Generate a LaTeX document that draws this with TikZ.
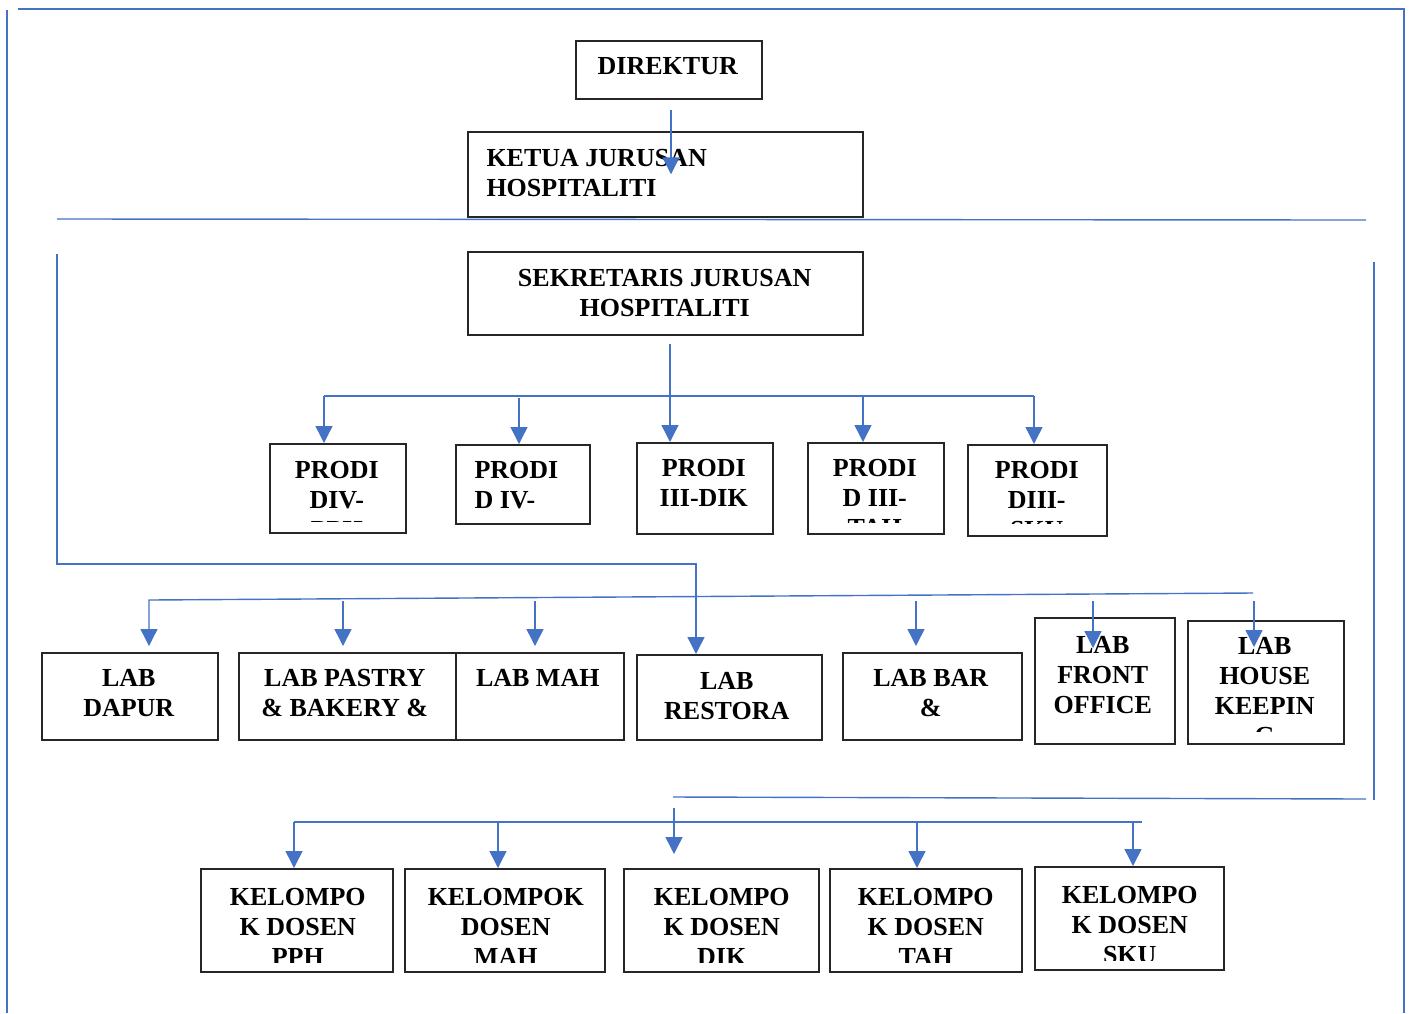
\documentclass[tikz,border=0pt]{standalone}
\usepackage{fontspec}
\setmainfont{Liberation Serif}
\usetikzlibrary{arrows.meta}
\definecolor{wordblue}{HTML}{4472C4}
\newcommand\unitfont{\bfseries\fontsize{26}{30}\selectfont}

\begin{document}
\begin{tikzpicture}[x=1pt, y=-1pt,
    unit/.style={draw=black!85, line width=1.5pt, fill=white, inner sep=0pt, anchor=north west},
    words/.style={font=\unitfont, draw=none, fill=none, inner sep=0pt, minimum width=0pt, minimum height=0pt},
    says/.style n args={4}{path picture={
        \clip ([yshift=#1]path picture bounding box.south west) rectangle (path picture bounding box.north east);
        \node[words, align=center, anchor=north]
          at ([xshift=#2pt, yshift=-#3pt]path picture bounding box.north west) {#4};}},
    saysleft/.style n args={4}{path picture={
        \clip ([yshift=#1]path picture bounding box.south west) rectangle (path picture bounding box.north east);
        \node[words, align=left, anchor=north west]
          at ([xshift=#2pt, yshift=-#3pt]path picture bounding box.north west) {#4};}},
    link/.style={draw=wordblue, line width=1.4pt},
    tip/.style={link, -{Triangle[width=17pt,length=17pt]}},
    frame/.style={draw=wordblue, line width=1.2pt}]
  \useasboundingbox (0,0) rectangle (1413,1013);
  % page frame
  \draw[frame] (18,9) -- (1404,9) -- (1404,1013);
  \draw[frame] (7,10) -- (7,1013);

  % top
  \node[unit, minimum width=186pt, minimum height=58pt, says={0pt}{92}{16}{DIREKTUR}] (dir) at (575,40) {};
  \node[unit, minimum width=395pt, minimum height=85pt, saysleft={0pt}{18}{17}{KETUA JURUSAN\\HOSPITALITI}] (ketua) at (467,131) {};
  \node[unit, minimum width=395pt, minimum height=83pt, says={0pt}{197}{17}{SEKRETARIS JURUSAN\\HOSPITALITI}] (sekr) at (467,251) {};

  % prodi
  \node[unit, minimum width=136pt, minimum height=89pt, says={11pt}{67}{17}{PRODI\\DIV-\\PPH}] (prodiPPH) at (269,443) {};
  \node[unit, minimum width=134pt, minimum height=79pt, saysleft={11pt}{18}{16}{PRODI\\D IV-\\MAH}] (prodiMAH) at (455,444) {};
  \node[unit, minimum width=136pt, minimum height=91pt, says={11pt}{67}{16}{PRODI\\III-DIK}] (prodiDIK) at (636,442) {};
  \node[unit, minimum width=136pt, minimum height=91pt, says={11pt}{67}{16}{PRODI\\D III-\\TAH}] (prodiTAH) at (807,442) {};
  \node[unit, minimum width=139pt, minimum height=91pt, says={12pt}{69}{16}{PRODI\\DIII-\\SKU}] (prodiSKU) at (967,444) {};

  % lab
  \node[unit, minimum width=176pt, minimum height=87pt, says={0pt}{87}{16}{LAB\\DAPUR}] (labDapur) at (41,652) {};
  \node[unit, minimum width=217pt, minimum height=87pt, says={12pt}{106}{16}{LAB PASTRY\\\& BAKERY \&}] (labPastry) at (238,652) {};
  \node[unit, minimum width=168pt, minimum height=87pt, says={0pt}{82}{16}{LAB MAH}] (labMah) at (455,652) {};
  \node[unit, minimum width=185pt, minimum height=85pt, says={0pt}{90}{17}{LAB\\RESTORA}] (labResto) at (636,654) {};
  \node[unit, minimum width=179pt, minimum height=87pt, says={12pt}{88}{16}{LAB BAR\\\&}] (labBar) at (842,652) {};
  \node[unit, minimum width=140pt, minimum height=126pt, says={0pt}{68}{18}{LAB\\FRONT\\OFFICE}] (labFO) at (1034,617) {};
  \node[unit, minimum width=156pt, minimum height=123pt, says={12pt}{77}{16}{LAB\\HOUSE\\KEEPIN\\G}] (labHK) at (1187,620) {};

  % kelompok dosen
  \node[unit, minimum width=192pt, minimum height=103pt, says={9pt}{97}{19}{KELOMPO\\K DOSEN\\PPH}] (kelPPH) at (200,868) {};
  \node[unit, minimum width=200pt, minimum height=103pt, says={9pt}{101}{19}{KELOMPOK\\DOSEN\\MAH}] (kelMAH) at (404,868) {};
  \node[unit, minimum width=195pt, minimum height=103pt, says={9pt}{98}{19}{KELOMPO\\K DOSEN\\DIK}] (kelDIK) at (623,868) {};
  \node[unit, minimum width=192pt, minimum height=103pt, says={9pt}{96}{19}{KELOMPO\\K DOSEN\\TAH}] (kelTAH) at (829,868) {};
  \node[unit, minimum width=189pt, minimum height=103pt, says={9pt}{95}{19}{KELOMPO\\K DOSEN\\SKU}] (kelSKU) at (1034,866) {};

  % bus points
  \coordinate (d0) at (671,110);
  \coordinate (s0) at (670,344);
  \coordinate (sp) at (670,396);
  \coordinate (lr) at (696,564);
  \coordinate (r0) at (1374,262);
  \coordinate (r1) at (1374,800);
  \coordinate (k0) at (674,808);

  \draw[tip] (d0) -- (d0 |- ketua.center);
  \draw[link] (57,219) -- (1366,220);

  \draw[tip] (s0) -- (sp |- prodiDIK.north);
  \draw[link] (324,396) -- (1034,396);
  \foreach \x/\b in {324/prodiPPH, 863/prodiTAH, 1034/prodiSKU}
    \draw[tip] (\x,396) -- (\x,0 |- \b.north);
  \draw[tip] (519,398) -- (519,0 |- prodiMAH.north);

  \draw[tip] (57,254) -- (57,564) -- (lr) -- (lr |- labResto.north);
  \draw[tip, shorten >=6pt] (1253,593) -- (149,600) -- (149,0 |- labDapur.north);
  \foreach \x/\b in {343/labPastry, 535/labMah, 916/labBar}
    \draw[tip, shorten >=6pt] (\x,601) -- (\x,0 |- \b.north);
  \draw[tip] (1093,601) -- (1093,648);
  \draw[tip] (1254,601) -- (1254,647);

  \draw[link] (r0) -- (r1);
  \draw[link] (1366,799) -- (673,797);
  \draw[tip, shorten >=14pt] (k0) -- (k0 |- kelDIK.north);
  \draw[link] (294,822) -- (1142,822);
  \foreach \x/\b in {294/kelPPH, 498/kelMAH, 917/kelTAH, 1133/kelSKU}
    \draw[tip] (\x,822) -- (\x,0 |- \b.north);
\end{tikzpicture}
\end{document}
